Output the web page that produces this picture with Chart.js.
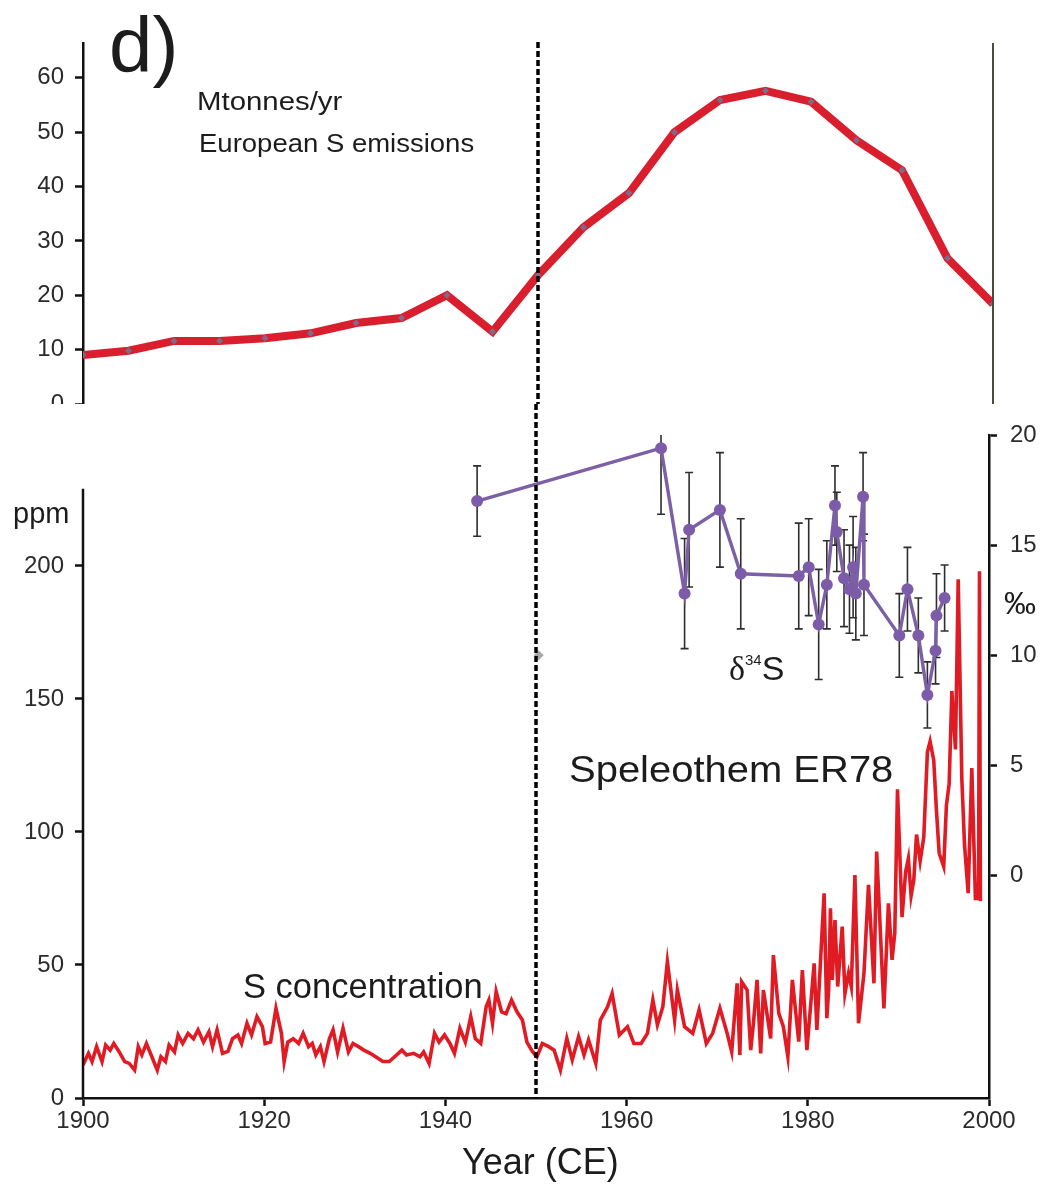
<!DOCTYPE html>
<html>
<head>
<meta charset="utf-8">
<title>European S emissions and speleothem ER78</title>
<script src="https://cdn.jsdelivr.net/npm/chart.js@4.4.1/dist/chart.umd.min.js"></script>
<style>
    html, body { margin: 0; padding: 0; background: #fff; }
    #page { position: relative; width: 1045px; height: 1184px; overflow: hidden; background: #fff; }
    .panel { position: absolute; left: 0; width: 1045px; overflow: hidden; }
    .lbl { position: absolute; line-height: 1; white-space: nowrap; font-family: "Liberation Sans", Arial, sans-serif; color: #1c1c1c; transform-origin: 0 0; }
</style>
</head>
<body>
<div id="page">
    <div class="panel" style="top:0;height:404px"><canvas id="emissionChart" width="1045" height="440"></canvas></div>
    <div class="panel" style="top:404px;height:780px"><canvas id="speleoChart" width="1045" height="780"></canvas></div>

    <div class="lbl" style="left:109px;top:6px;font-size:78px">d)</div>
    <div class="lbl" style="left:197px;top:88px;font-size:26px;transform:scaleX(1.13)">Mtonnes/yr</div>
    <div class="lbl" style="left:199px;top:131px;font-size:25px;transform:scaleX(1.1)">European S emissions</div>
    <div class="lbl" style="left:13px;top:499px;font-size:29px">ppm</div>
    <div class="lbl" style="left:1004px;top:587px;font-size:32px">‰</div>
    <div class="lbl" style="left:729px;top:651px;font-size:34px"><span style="font-family:'Liberation Serif',serif">δ</span><span style="font-size:15px;position:relative;top:-15px">34</span>S</div>
    <div class="lbl" style="left:569px;top:751px;font-size:37px;transform:scaleX(1.08)">Speleothem ER78</div>
    <div class="lbl" style="left:243px;top:969px;font-size:34.5px">S concentration</div>
    <div class="lbl" style="left:462px;top:1144px;font-size:36px">Year (CE)</div>
</div>

<script>
// European S emissions (Mtonnes/yr), 5-year steps
const emisYears = [1900, 1905, 1910, 1915, 1920, 1925, 1930, 1935, 1940, 1945, 1950,
    1955, 1960, 1965, 1970, 1975, 1980, 1985, 1990, 1995, 2000];
const emisValues = [9.0, 9.8, 11.6, 11.6, 12.1, 13.0, 14.9, 15.8, 20.0, 13.3, 23.7,
    32.5, 38.8, 50.0, 55.9, 57.6, 55.6, 48.5, 43.0, 26.8, 18.4];

// Speleothem ER78 S concentration (ppm)
const concYears = [
    1900.0, 1900.6, 1901.0, 1901.5, 1902.1, 1902.5, 1903.0, 1903.4, 1904.0, 1904.6,
    1905.1, 1905.7, 1906.1, 1906.5, 1907.0, 1907.6, 1908.2, 1908.6, 1909.1, 1909.5,
    1910.1, 1910.5, 1911.0, 1911.6, 1912.2, 1912.7, 1913.3, 1913.9, 1914.3, 1914.8,
    1915.4, 1916.0, 1916.5, 1917.1, 1917.5, 1918.1, 1918.6, 1919.2, 1919.8, 1920.1,
    1920.7, 1921.3, 1921.9, 1922.2, 1922.6, 1923.2, 1923.8, 1924.3, 1924.9, 1925.3,
    1925.7, 1926.2, 1926.6, 1927.2, 1927.6, 1928.1, 1928.7, 1929.3, 1929.8, 1930.4,
    1931.0, 1931.7, 1932.3, 1933.1, 1933.8, 1934.4, 1935.2, 1935.7, 1936.5, 1937.2,
    1937.6, 1938.2, 1938.8, 1939.3, 1939.9, 1940.5, 1941.0, 1941.6, 1942.2, 1942.8,
    1943.3, 1943.9, 1944.5, 1944.8, 1945.2, 1945.6, 1946.2, 1946.7, 1947.3, 1947.9,
    1948.5, 1949.0, 1949.6,
    1950.1, 1950.7, 1951.4, 1952.0, 1952.7, 1953.4, 1954.0, 1954.7, 1955.3, 1955.8,
    1956.6, 1957.1, 1957.9, 1958.4, 1959.2, 1960.1, 1960.8, 1961.6, 1962.3, 1962.9,
    1963.4, 1964.0, 1964.5, 1965.3, 1965.6, 1966.4, 1967.3, 1968.0, 1968.8, 1969.5,
    1970.3, 1971.1, 1971.6, 1972.2, 1972.5, 1972.7, 1973.3, 1973.7, 1974.0, 1974.4,
    1974.8, 1975.1, 1975.9, 1976.2, 1976.8, 1977.3, 1977.8, 1978.3, 1979.0, 1979.4,
    1979.9, 1980.7, 1981.0, 1981.8, 1982.1, 1982.3, 1982.5, 1982.7, 1983.0, 1983.3,
    1983.8, 1984.1, 1984.5, 1984.8, 1985.2, 1985.6, 1986.2, 1986.7, 1987.3, 1987.6,
    1988.4, 1988.9, 1989.3, 1989.6, 1989.9, 1990.4, 1990.8, 1991.1, 1991.4, 1991.7,
    1992.0, 1992.4, 1992.8, 1993.2, 1993.5, 1993.9, 1994.2, 1994.5, 1995.0, 1995.3,
    1995.6, 1995.9, 1996.3, 1996.6, 1997.0, 1997.3, 1997.7, 1998.1, 1998.5, 1998.85,
    1998.95, 1999.05
];
const concValues = [
    12.4, 16.8, 13.7, 19.3, 13.7, 19.9, 18.0, 20.5, 17.3, 13.7,
    13.0, 10.5, 19.3, 16.2, 20.5, 15.5, 10.5, 15.5, 13.7, 19.9,
    17.3, 23.7, 20.5, 24.3, 22.3, 25.6, 21.0, 24.9, 19.3, 25.6,
    16.8, 17.5, 22.3, 23.7, 20.5, 28.1, 23.7, 30.6, 26.8, 20.5,
    21.0, 33.7, 24.3, 13.7, 21.0, 22.3, 20.5, 24.3, 19.3, 20.5,
    16.2, 19.3, 13.7, 22.3, 25.6, 17.3, 26.2, 17.3, 20.5, 19.3,
    18.0, 16.8, 15.5, 13.7, 13.7, 15.5, 18.0, 16.2, 16.8, 15.5,
    17.3, 13.0, 24.3, 21.0, 23.7, 20.5, 16.8, 26.2, 21.0, 30.6,
    22.3, 20.5, 34.3, 36.8, 28.1, 40.0, 32.4, 31.7, 36.8, 32.4,
    29.3, 21.0, 17.5,
    15.5, 20.5, 19.3, 18.0, 10.5, 22.4, 14.3, 23.1, 16.2, 21.8,
    13.0, 29.3, 34.3, 39.3, 23.7, 26.8, 20.5, 20.5, 24.3, 36.8,
    27.5, 34.3, 51.2, 29.3, 40.6, 26.8, 24.3, 33.1, 20.5, 24.3,
    33.7, 24.3, 17.4, 43.1, 16.2, 43.7, 40.6, 18.0, 28.1, 44.4,
    16.8, 40.6, 22.4, 53.7, 31.8, 26.8, 15.5, 44.4, 21.2, 48.1,
    18.0, 50.6, 25.6, 76.9, 30.0, 40.6, 71.3, 44.4, 66.9, 41.9,
    64.4, 39.3, 46.9, 41.9, 83.8, 28.1, 46.9, 80.1, 43.1, 92.6,
    33.7, 73.2, 51.9, 62.0, 116.0, 68.0, 85.0, 90.0, 76.0, 82.0,
    99.0, 89.0, 98.0, 130.0, 134.0, 127.0, 108.0, 92.0, 87.0, 110.0,
    118.0, 153.0, 131.0, 195.0, 120.0, 95.0, 77.0, 124.0, 75.0, 75.0,
    198.0, 74.0
];

// delta34S (per mil) with 1-sigma error bars
const deltaYears = [1943.5, 1963.8, 1966.4, 1966.9, 1970.3, 1972.6, 1979.0, 1980.1, 1981.2,
    1982.1, 1983.0, 1983.2, 1984.0, 1984.6, 1985.0, 1985.3, 1986.1, 1986.2,
    1990.1, 1991.0, 1992.2, 1993.2, 1994.1, 1994.2, 1995.1];
const deltaValues = [17.0, 19.4, 12.8, 15.7, 16.6, 13.7, 13.6, 14.0, 11.4,
    13.2, 16.8, 15.6, 13.5, 13.0, 14.0, 12.8, 17.2, 13.2,
    10.9, 13.0, 10.9, 8.2, 10.2, 11.8, 12.6];
const deltaErrors = [1.6, 3.0, 2.5, 2.6, 2.6, 2.5, 2.4, 2.2, 2.5,
    2.0, 1.8, 1.8, 2.2, 2.0, 2.3, 2.1, 2.0, 2.3,
    1.9, 1.9, 1.7, 1.5, 1.5, 1.9, 1.5];

// stray grey marker sitting on the 1950 line
const greyYears = [1950.3];
const greyValues = [10.0];

// axis ticks
const yearTicks = [1900, 1920, 1940, 1960, 1980, 2000];
const emisTicks = [0, 10, 20, 30, 40, 50, 60];
const concTicks = [0, 50, 100, 150, 200];
const deltaTicks = [0, 5, 10, 15, 20];

const refYear = 1950;

Chart.defaults.font.family = '"Liberation Sans", Arial, sans-serif';
Chart.defaults.color = '#2b2b2b';

const toPoints = (xs, ys) => xs.map((x, i) => ({ x: x, y: ys[i] }));
const fixTicks = list => scale => { scale.ticks = list.map(v => ({ value: v })); };
const plainLabel = v => String(v);

const axisStyle = {
    grid: { display: true, drawOnChartArea: false, drawTicks: true, tickLength: 8, tickWidth: 2.5, tickColor: '#111' },
    border: { display: true, color: '#111', width: 2.5 }
};

// dashed marker at 1950
const refLinePlugin = {
    id: 'refLine',
    afterDatasetsDraw(chart, args, opts) {
        const { ctx, chartArea, scales } = chart;
        const px = scales.x.getPixelForValue(opts.year);
        ctx.save();
        ctx.strokeStyle = '#000';
        ctx.lineWidth = 3.5;
        ctx.setLineDash([6, 3]);
        ctx.beginPath();
        ctx.moveTo(px, opts.fromCanvasTop ? 0 : chartArea.top - 1);
        ctx.lineTo(px, opts.toCanvasBottom ? chart.height : chartArea.bottom);
        ctx.stroke();
        ctx.restore();
    }
};

// error bars for delta34S
const errorBarPlugin = {
    id: 'errorBars',
    beforeDatasetsDraw(chart) {
        const { ctx, chartArea, scales } = chart;
        ctx.save();
        ctx.beginPath();
        ctx.rect(chartArea.left, chartArea.top, chartArea.width, chartArea.height);
        ctx.clip();
        ctx.strokeStyle = '#2e2e2e';
        ctx.lineWidth = 1.6;
        deltaYears.forEach((yr, i) => {
            const px = scales.x.getPixelForValue(yr);
            const top = scales.yDelta.getPixelForValue(deltaValues[i] + deltaErrors[i]);
            const bot = scales.yDelta.getPixelForValue(deltaValues[i] - deltaErrors[i]);
            ctx.beginPath();
            ctx.moveTo(px, top); ctx.lineTo(px, bot);
            ctx.moveTo(px - 4, top); ctx.lineTo(px + 4, top);
            ctx.moveTo(px - 4, bot); ctx.lineTo(px + 4, bot);
            ctx.stroke();
        });
        ctx.restore();
    }
};

// top panel: right hand frame line at 2000
const frameLinePlugin = {
    id: 'frameLine',
    afterDraw(chart) {
        const { ctx, chartArea, scales } = chart;
        const px = scales.x.getPixelForValue(2000);
        ctx.save();
        ctx.strokeStyle = '#4b4b3c';
        ctx.lineWidth = 2;
        ctx.beginPath();
        ctx.moveTo(px, chartArea.top);
        ctx.lineTo(px, chartArea.bottom);
        ctx.stroke();
        ctx.restore();
    }
};

// bottom panel: left axis line stops short of the plot top
const leftAxisPlugin = {
    id: 'leftAxis',
    afterDraw(chart) {
        const { ctx, chartArea, scales } = chart;
        ctx.save();
        ctx.strokeStyle = '#111';
        ctx.lineWidth = 2.5;
        ctx.beginPath();
        ctx.moveTo(chartArea.left, scales.yConc.getPixelForValue(0) + 1);
        ctx.lineTo(chartArea.left, scales.yConc.getPixelForValue(229));
        ctx.stroke();
        ctx.restore();
    }
};

new Chart(document.getElementById('emissionChart'), {
    type: 'line',
    data: {
        datasets: [{
            label: 'European S emissions',
            data: toPoints(emisYears, emisValues),
            borderColor: '#d91f2e',
            borderWidth: 8,
            tension: 0,
            pointStyle: 'rectRot',
            pointRadius: 3.5,
            pointBackgroundColor: '#7e6b8c',
            pointBorderWidth: 0
        }]
    },
    options: {
        responsive: false,
        animation: false,
        events: [],
        layout: { padding: { top: 43, right: 52, bottom: 36, left: 0 } },
        plugins: {
            legend: { display: false },
            tooltip: { enabled: false },
            refLine: { year: refYear, fromCanvasTop: false, toCanvasBottom: true }
        },
        scales: {
            x: { type: 'linear', min: 1900, max: 2000, display: false },
            y: {
                ...axisStyle,
                min: 0,
                max: 66.4,
                afterBuildTicks: fixTicks(emisTicks),
                afterFit: s => { s.width = 83; },
                ticks: { font: { size: 24 }, padding: 11, callback: plainLabel }
            }
        }
    },
    plugins: [refLinePlugin, frameLinePlugin]
});

new Chart(document.getElementById('speleoChart'), {
    type: 'line',
    data: {
        datasets: [
            {
                label: 'δ34S',
                data: toPoints(deltaYears, deltaValues),
                yAxisID: 'yDelta',
                order: 0,
                borderColor: '#7d5fa5',
                borderWidth: 3.4,
                tension: 0,
                pointRadius: 6,
                pointBackgroundColor: '#7c5ca8',
                pointBorderWidth: 0
            },
            {
                label: 'grey marker',
                data: toPoints(greyYears, greyValues),
                yAxisID: 'yDelta',
                order: -1,
                showLine: false,
                pointStyle: 'rectRot',
                pointRadius: 5,
                pointBackgroundColor: '#a9a9a9',
                pointBorderWidth: 0
            },
            {
                label: 'S concentration',
                data: toPoints(concYears, concValues),
                yAxisID: 'yConc',
                order: 2,
                borderColor: '#e01b24',
                borderWidth: 3.6,
                tension: 0,
                pointRadius: 0
            }
        ]
    },
    options: {
        responsive: false,
        animation: false,
        events: [],
        layout: { padding: { top: 31, right: 0, bottom: 0, left: 0 } },
        plugins: {
            legend: { display: false },
            tooltip: { enabled: false },
            refLine: { year: refYear, fromCanvasTop: true, toCanvasBottom: false }
        },
        scales: {
            x: {
                ...axisStyle,
                type: 'linear',
                min: 1900,
                max: 2000,
                afterBuildTicks: fixTicks(yearTicks),
                afterFit: s => { s.height = 86; },
                ticks: { font: { size: 24 }, padding: 1, maxRotation: 0, callback: plainLabel }
            },
            yConc: {
                ...axisStyle,
                border: { display: false },
                position: 'left',
                min: 0,
                max: 249.2,
                afterBuildTicks: fixTicks(concTicks),
                afterFit: s => { s.width = 83; },
                ticks: { font: { size: 24 }, padding: 11, callback: plainLabel }
            },
            yDelta: {
                ...axisStyle,
                position: 'right',
                min: -10.1,
                max: 20,
                afterBuildTicks: fixTicks(deltaTicks),
                afterFit: s => { s.width = 56; },
                ticks: { font: { size: 24 }, padding: 13, callback: plainLabel }
            }
        }
    },
    plugins: [errorBarPlugin, refLinePlugin, leftAxisPlugin]
});
</script>
</body>
</html>
